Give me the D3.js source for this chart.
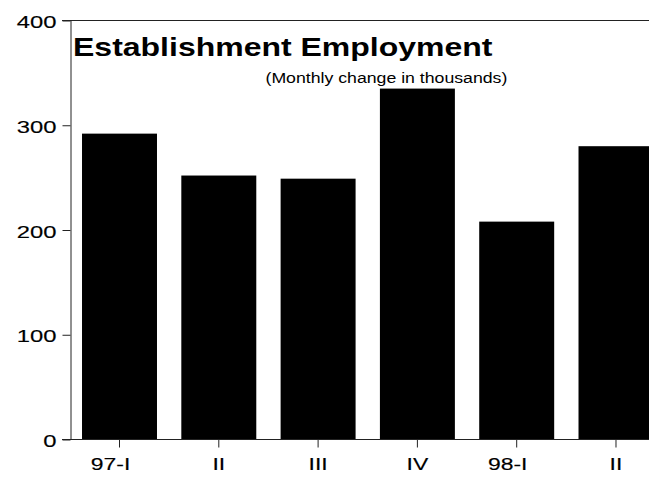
<!DOCTYPE html>
<html>
<head>
<meta charset="utf-8">
<script src="https://cdn.jsdelivr.net/npm/d3@7"></script>
<style>
html, body { margin: 0; padding: 0; background: #fff; }
svg { display: block; }
text { font-family: "Liberation Sans", Arial, Helvetica, sans-serif; fill: #000; }
.lbl { stroke: #000; stroke-width: 0.15px; }
</style>
</head>
<body>
<script>
// ---- data ----
const categories = ["97-I", "II", "III", "IV", "98-I", "II "];
const categoryLabels = ["97-I", "II", "III", "IV", "98-I", "II"];
const values = [292, 252, 249, 335, 208, 280];
const yTicks = [0, 100, 200, 300, 400];
const title = "Establishment Employment";
const subtitle = "(Monthly change in thousands)";

// ---- layout ----
const W = 649, H = 477;
const svg = d3.select("body").append("svg").attr("width", W).attr("height", H);

const x = d3.scaleBand().domain(categories).range([70, 665.5])
  .paddingInner(0.245).paddingOuter(0.121);
const y = d3.scaleLinear().domain([0, 400]).range([439.5, 20.5]);

const stroke = "#222";

// bars
svg.append("g").selectAll("rect").data(values).join("rect")
  .attr("x", (d, i) => x(categories[i]))
  .attr("width", x.bandwidth())
  .attr("y", d => y(d))
  .attr("height", d => y(0) - y(d))
  .attr("fill", "#000");

// y axis
const yAxis = svg.append("g").attr("transform", "translate(70.5,0)")
  .call(d3.axisLeft(y).tickValues(yTicks).tickSize(8).tickSizeOuter(0).tickFormat(d3.format("d")));
yAxis.select(".domain").attr("stroke", stroke);
yAxis.selectAll(".tick line").attr("stroke", stroke);
yAxis.selectAll(".tick text").remove();
yAxis.selectAll(".tick").append("text")
  .attr("class", "lbl")
  .attr("transform", "translate(-14,7) scale(1.4,1)")
  .attr("text-anchor", "end")
  .style("font-size", "17px")
  .text(d => d3.format("d")(d));

// top line
svg.append("line").attr("x1", 62).attr("x2", W).attr("y1", y(400)).attr("y2", y(400))
  .attr("stroke", stroke);

// x axis
const xAxis = svg.append("g").attr("transform", `translate(0,${y(0)})`)
  .call(d3.axisBottom(x).tickSize(8).tickSizeOuter(0));
xAxis.select(".domain").remove();
xAxis.selectAll(".tick line").attr("stroke", stroke);
xAxis.selectAll(".tick text").remove();
xAxis.selectAll(".tick").append("text")
  .attr("class", "lbl")
  .attr("transform", (d, i) => `translate(${categoryLabels[i].includes("-") ? -9 : 0},30) scale(1.35,1)`)
  .attr("text-anchor", "middle")
  .style("font-size", "17px")
  .text((d, i) => categoryLabels[i]);
svg.append("line").attr("x1", 62).attr("x2", W).attr("y1", y(0)).attr("y2", y(0))
  .attr("stroke", stroke);

// titles
svg.append("text")
  .attr("transform", "translate(73,56) scale(1.28,1)")
  .style("font-size", "25px").style("font-weight", "bold")
  .text(title);
svg.append("text")
  .attr("transform", "translate(265.5,82.5) scale(1.18,1)")
  .style("font-size", "15px")
  .text(subtitle);
</script>
</body>
</html>
